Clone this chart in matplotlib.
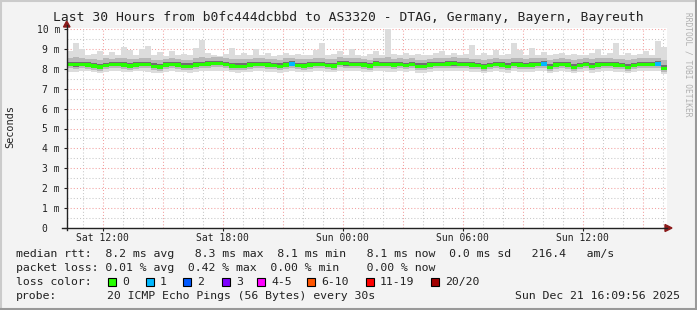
import matplotlib
matplotlib.use('Agg')
import matplotlib.pyplot as plt
import numpy as np
from matplotlib.patches import Rectangle, Polygon
from matplotlib.lines import Line2D

W, H = 697, 310
MONO = 'DejaVu Sans Mono'

# time axis: hours since Sat 00:00, 100 samples of 18 minutes
t_start = 10.2
step_h = 0.3

# median rtt (ms) per sample
median = [
    8.22, 8.22, 8.22, 8.20, 8.15, 8.10, 8.18, 8.22, 8.22, 8.20,
    8.15, 8.20, 8.22, 8.22, 8.12, 8.10, 8.20, 8.22, 8.20, 8.13,
    8.12, 8.20, 8.22, 8.25, 8.28, 8.27, 8.22, 8.15, 8.12, 8.13,
    8.20, 8.22, 8.22, 8.20, 8.18, 8.13, 8.20, 8.24, 8.16, 8.15,
    8.20, 8.22, 8.22, 8.17, 8.15, 8.27, 8.26, 8.22, 8.22, 8.20,
    8.14, 8.24, 8.22, 8.22, 8.20, 8.22, 8.17, 8.22, 8.12, 8.12,
    8.20, 8.22, 8.22, 8.24, 8.26, 8.22, 8.22, 8.20, 8.18, 8.10,
    8.18, 8.22, 8.20, 8.12, 8.22, 8.20, 8.17, 8.20, 8.22, 8.24,
    8.08, 8.20, 8.22, 8.20, 8.08, 8.18, 8.22, 8.13, 8.20, 8.22,
    8.22, 8.20, 8.16, 8.08, 8.18, 8.22, 8.22, 8.22, 8.24, 8.03,
]

# lost pings out of 20 per sample
loss = [
    0, 0, 0, 0, 0, 0, 0, 0, 0, 0,
    0, 0, 0, 0, 0, 0, 0, 0, 0, 0,
    0, 0, 0, 0, 0, 0, 0, 0, 0, 0,
    0, 0, 0, 0, 0, 0, 0, 1, 0, 0,
    0, 0, 0, 0, 0, 0, 0, 0, 0, 0,
    0, 0, 0, 0, 0, 0, 0, 0, 0, 0,
    0, 0, 0, 0, 0, 0, 0, 0, 0, 0,
    0, 0, 0, 0, 0, 0, 0, 0, 0, 1,
    0, 0, 0, 0, 0, 0, 0, 0, 0, 0,
    0, 0, 0, 0, 0, 0, 0, 0, 1, 0,
]

# smoke: spread of the 20 pings
ping_min = [
    7.86, 7.84, 7.88, 7.87, 7.82, 7.80, 7.86, 7.88, 7.87, 7.85,
    7.83, 7.87, 7.88, 7.86, 7.80, 7.79, 7.86, 7.88, 7.86, 7.82,
    7.81, 7.86, 7.87, 7.89, 7.90, 7.90, 7.87, 7.83, 7.80, 7.82,
    7.86, 7.88, 7.87, 7.86, 7.85, 7.81, 7.86, 7.88, 7.83, 7.82,
    7.86, 7.87, 7.88, 7.84, 7.82, 7.90, 7.89, 7.87, 7.88, 7.86,
    7.82, 7.88, 7.87, 7.85, 7.86, 7.88, 7.84, 7.87, 7.80, 7.80,
    7.86, 7.88, 7.87, 7.88, 7.90, 7.87, 7.88, 7.86, 7.85, 7.78,
    7.84, 7.87, 7.86, 7.80, 7.87, 7.86, 7.84, 7.86, 7.87, 7.88,
    7.78, 7.86, 7.87, 7.86, 7.78, 7.84, 7.87, 7.81, 7.86, 7.87,
    7.88, 7.86, 7.83, 7.77, 7.84, 7.87, 7.88, 7.87, 7.88, 7.74,
]
ping_q10 = [
    8.02, 8.01, 8.03, 8.00, 7.96, 7.91, 7.99, 8.02, 8.03, 8.00,
    7.96, 8.00, 8.03, 8.02, 7.93, 7.91, 8.00, 8.03, 8.00, 7.94,
    7.93, 8.01, 8.02, 8.05, 8.08, 8.07, 8.02, 7.96, 7.93, 7.94,
    8.00, 8.02, 8.03, 8.00, 7.98, 7.94, 8.00, 8.04, 7.97, 7.96,
    8.00, 8.02, 8.03, 7.98, 7.96, 8.07, 8.06, 8.02, 8.03, 8.00,
    7.95, 8.04, 8.02, 8.02, 8.00, 8.02, 7.97, 8.02, 7.93, 7.93,
    8.00, 8.02, 8.03, 8.04, 8.06, 8.02, 8.03, 8.00, 7.98, 7.91,
    7.98, 8.02, 8.00, 7.93, 8.02, 8.00, 7.97, 8.00, 8.02, 8.04,
    7.89, 8.00, 8.02, 8.00, 7.89, 7.98, 8.02, 7.94, 8.00, 8.02,
    8.03, 8.00, 7.97, 7.89, 7.98, 8.02, 8.03, 8.02, 8.04, 7.85,
]
ping_q25 = [
    8.12, 8.11, 8.13, 8.10, 8.06, 8.01, 8.08, 8.12, 8.13, 8.10,
    8.05, 8.10, 8.12, 8.13, 8.03, 8.01, 8.10, 8.12, 8.10, 8.04,
    8.03, 8.10, 8.12, 8.15, 8.18, 8.17, 8.12, 8.05, 8.03, 8.04,
    8.10, 8.12, 8.13, 8.10, 8.08, 8.04, 8.10, 8.14, 8.07, 8.06,
    8.10, 8.12, 8.13, 8.07, 8.06, 8.17, 8.16, 8.12, 8.13, 8.10,
    8.05, 8.14, 8.12, 8.12, 8.10, 8.12, 8.07, 8.12, 8.03, 8.03,
    8.10, 8.12, 8.13, 8.14, 8.16, 8.12, 8.13, 8.10, 8.08, 8.01,
    8.08, 8.12, 8.10, 8.03, 8.12, 8.10, 8.07, 8.10, 8.12, 8.14,
    7.99, 8.10, 8.12, 8.10, 7.99, 8.08, 8.12, 8.04, 8.10, 8.12,
    8.13, 8.10, 8.07, 7.99, 8.08, 8.12, 8.13, 8.12, 8.14, 7.94,
]
ping_q75 = [
    8.35, 8.36, 8.34, 8.33, 8.29, 8.25, 8.31, 8.35, 8.36, 8.33,
    8.29, 8.33, 8.35, 8.36, 8.27, 8.25, 8.33, 8.35, 8.33, 8.28,
    8.27, 8.33, 8.36, 8.38, 8.40, 8.39, 8.35, 8.29, 8.27, 8.28,
    8.33, 8.35, 8.36, 8.33, 8.31, 8.28, 8.33, 8.37, 8.30, 8.29,
    8.33, 8.35, 8.36, 8.31, 8.29, 8.39, 8.38, 8.35, 8.36, 8.33,
    8.28, 8.37, 8.35, 8.35, 8.33, 8.35, 8.31, 8.35, 8.27, 8.27,
    8.33, 8.35, 8.36, 8.37, 8.38, 8.35, 8.36, 8.33, 8.31, 8.25,
    8.31, 8.35, 8.33, 8.27, 8.35, 8.33, 8.31, 8.33, 8.35, 8.37,
    8.23, 8.33, 8.35, 8.33, 8.23, 8.31, 8.35, 8.28, 8.33, 8.35,
    8.36, 8.33, 8.30, 8.23, 8.31, 8.35, 8.36, 8.35, 8.37, 8.18,
]
ping_q90 = [
    8.52, 8.58, 8.54, 8.50, 8.47, 8.45, 8.52, 8.50, 8.53, 8.55,
    8.48, 8.50, 8.54, 8.56, 8.45, 8.44, 8.50, 8.53, 8.49, 8.46,
    8.45, 8.52, 8.58, 8.55, 8.58, 8.57, 8.52, 8.50, 8.47, 8.48,
    8.50, 8.53, 8.52, 8.49, 8.48, 8.46, 8.52, 8.55, 8.48, 8.47,
    8.50, 8.54, 8.56, 8.48, 8.47, 8.57, 8.55, 8.54, 8.52, 8.50,
    8.46, 8.54, 8.52, 8.60, 8.50, 8.52, 8.48, 8.52, 8.45, 8.46,
    8.50, 8.53, 8.55, 8.56, 8.57, 8.52, 8.54, 8.50, 8.49, 8.44,
    8.48, 8.55, 8.50, 8.47, 8.56, 8.52, 8.48, 8.53, 8.52, 8.55,
    8.42, 8.50, 8.52, 8.50, 8.42, 8.48, 8.53, 8.47, 8.52, 8.52,
    8.54, 8.50, 8.48, 8.42, 8.50, 8.53, 8.54, 8.52, 8.56, 8.45,
]
ping_max = [
    8.90, 9.30, 9.00, 8.70, 8.75, 8.90, 8.70, 8.85, 8.70, 9.10,
    8.95, 8.70, 9.00, 9.15, 8.70, 8.85, 8.65, 8.90, 8.70, 8.75,
    8.70, 9.05, 9.45, 8.80, 8.70, 8.65, 8.75, 9.05, 8.70, 8.80,
    8.70, 9.00, 8.70, 8.80, 8.65, 8.70, 8.80, 8.70, 8.75, 8.70,
    8.70, 8.95, 9.30, 8.70, 8.75, 8.90, 8.70, 9.00, 8.70, 8.65,
    8.75, 8.90, 8.70, 10.0, 8.75, 8.70, 8.80, 8.70, 8.75, 8.70,
    8.70, 8.80, 8.90, 8.70, 8.80, 8.70, 8.75, 9.20, 8.70, 8.80,
    8.70, 8.95, 8.70, 8.75, 9.30, 8.95, 8.70, 9.05, 8.70, 8.85,
    8.70, 8.75, 8.80, 8.70, 8.75, 8.70, 8.70, 8.80, 9.00, 8.70,
    8.80, 9.30, 8.70, 8.80, 8.70, 8.75, 8.90, 8.70, 9.40, 9.10,
]

x_ticks = [12, 18, 24, 30, 36]
x_labels = ['Sat 12:00', 'Sat 18:00', 'Sun 00:00', 'Sun 06:00', 'Sun 12:00']
y_ticks = list(range(11))
y_labels = ['0  '] + [f'{v} m' for v in range(1, 11)]

loss_names = ['0', '1', '2', '3', '4-5', '6-10', '11-19', '20/20']
loss_colors = ['#26ff00', '#00b8ff', '#0059ff', '#7e00ff', '#ff00ff',
               '#ff5500', '#ff0000', '#a10000']

title = 'Last 30 Hours from b0fc444dcbbd to AS3320 - DTAG, Germany, Bayern, Bayreuth'
rtt_line = 'median rtt:  8.2 ms avg   8.3 ms max  8.1 ms min   8.1 ms now  0.0 ms sd   216.4   am/s'
loss_line = 'packet loss: 0.01 % avg  0.42 % max  0.00 % min    0.00 % now'
probe_text = '20 ICMP Echo Pings (56 Bytes) every 30s'
stamp = 'Sun Dec 21 16:09:56 2025'


def px(x, y):
    # pixel position -> figure fraction
    return x / W, 1 - y / H


fig = plt.figure(figsize=(W / 100, H / 100), dpi=100, facecolor='#f3f3f3')

# 3d frame round the image
fig.add_artist(Line2D([0, 1], [1 - 1 / H, 1 - 1 / H], transform=fig.transFigure, color='#cbcbcb', lw=1.5))
fig.add_artist(Line2D([1 / W, 1 / W], [0, 1], transform=fig.transFigure, color='#cbcbcb', lw=1.5))
fig.add_artist(Line2D([0, 1], [1 / H, 1 / H], transform=fig.transFigure, color='#999999', lw=1.5))
fig.add_artist(Line2D([1 - 1 / W, 1 - 1 / W], [0, 1], transform=fig.transFigure, color='#999999', lw=1.5))

ax = fig.add_axes([66.7 / W, 82 / H, 600 / W, 200 / H])
ax.set_facecolor('white')
ax.set_xlim(t_start, t_start + 30)
ax.set_ylim(0, 200 / 19.9)
for s in ax.spines.values():
    s.set_visible(False)

# grid
for h in range(11, 41):
    c = '#f2a0a0' if h % 3 == 0 else '#c8c8c8'
    ax.axvline(h, color=c, lw=0.75, ls=(0, (1, 2)), zorder=1)
for v in np.arange(0.5, 10.01, 0.5):
    c = '#f2a0a0' if v % 1 == 0 else '#c8c8c8'
    ax.axhline(v, color=c, lw=0.75, ls=(0, (1, 2)), zorder=1)

t = t_start + step_h * np.arange(len(median))
med = np.array(median)
ax.bar(t, np.array(ping_max) - np.array(ping_min), bottom=ping_min, width=step_h,
       align='edge', color='#dcdcdc', lw=0, zorder=2)
ax.bar(t, np.array(ping_q90) - np.array(ping_q10), bottom=ping_q10, width=step_h,
       align='edge', color='#b8b8b8', lw=0, zorder=3)
ax.bar(t, np.array(ping_q75) - np.array(ping_q25), bottom=ping_q25, width=step_h,
       align='edge', color='#707070', lw=0, zorder=4)
ax.bar(t, 0.17, bottom=med - 0.085, width=step_h, align='edge',
       color=[loss_colors[l] for l in loss], lw=0, zorder=5, antialiased=False)

ax.set_xticks(x_ticks, x_labels)
ax.set_yticks(y_ticks, y_labels)
ax.tick_params(axis='x', length=2, pad=1.5, labelsize=7.05, colors='#222222')
ax.tick_params(axis='y', length=2.2, pad=2.6, labelsize=7.05, colors='#222222')
for lab in ax.get_xticklabels() + ax.get_yticklabels():
    lab.set_family(MONO)

# axis lines with arrows
axis_col = '#222222'
arrow_col = '#8b1a1a'
fig.add_artist(Line2D(*zip(px(66.7, 230), px(66.7, 25)), transform=fig.transFigure, color=axis_col, lw=1))
fig.add_artist(Line2D(*zip(px(62, 228), px(667, 228)), transform=fig.transFigure, color=axis_col, lw=1))
fig.add_artist(Polygon([px(63.5, 27), px(70, 27), px(66.7, 21)], closed=True,
                       transform=fig.transFigure, color=arrow_col))
fig.add_artist(Polygon([px(665, 224.5), px(665, 231.5), px(672, 228)], closed=True,
                       transform=fig.transFigure, color=arrow_col))

# texts
fig.text(*px(348, 18), title, family=MONO, fontsize=9.4, ha='center', va='center', color='#222222')
fig.text(*px(10, 127), 'Seconds', family=MONO, fontsize=7.4, rotation=90, ha='center', va='center', color='#222222')
fig.text(*px(688, 12), 'RRDTOOL / TOBI OETIKER', family=MONO, fontsize=5.7, rotation=270,
         ha='center', va='top', color='#b0b0b0')

fs = 8.25
fig.text(*px(16, 254), rtt_line, family=MONO, fontsize=fs, ha='left', va='center', color='#222222')
fig.text(*px(16, 268), loss_line, family=MONO, fontsize=fs, ha='left', va='center', color='#222222')
fig.text(*px(16, 282), 'loss color:', family=MONO, fontsize=fs, ha='left', va='center', color='#222222')
box_x = [108, 146, 183, 222, 257, 307, 366, 431]
for bx, name, col in zip(box_x, loss_names, loss_colors):
    x0, y0 = px(bx, 286)
    fig.add_artist(Rectangle((x0, y0), 8 / W, 8 / H, transform=fig.transFigure,
                             facecolor=col, edgecolor='black', lw=0.8))
    fig.text(*px(bx + 14, 282), name, family=MONO, fontsize=fs, ha='left', va='center', color='#222222')
fig.text(*px(16, 296), 'probe:', family=MONO, fontsize=fs, ha='left', va='center', color='#222222')
fig.text(*px(107, 296), probe_text, family=MONO, fontsize=fs, ha='left', va='center', color='#222222')
fig.text(*px(680, 296), stamp, family=MONO, fontsize=fs, ha='right', va='center', color='#222222')

fig.savefig('out.png', dpi=100, facecolor=fig.get_facecolor())
